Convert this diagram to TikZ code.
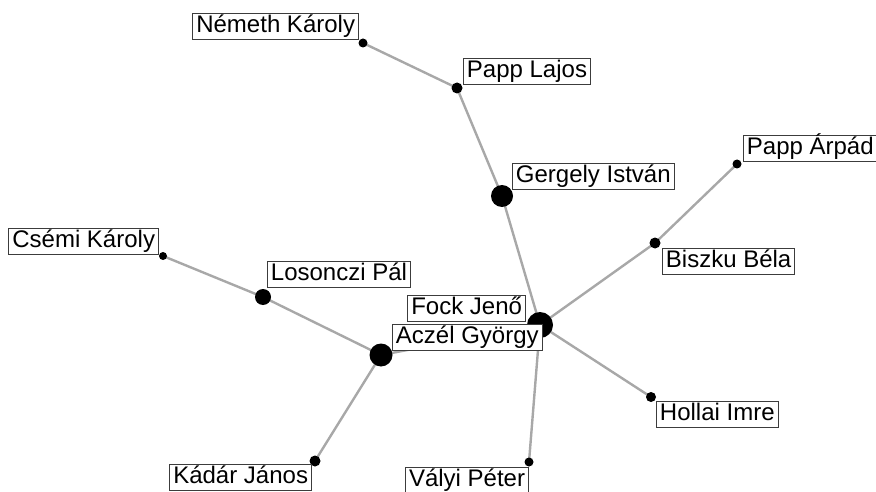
\documentclass[tikz,border=0pt]{standalone}
\usepackage{fontspec}
\setmainfont{Liberation Sans}
\pgfdeclarelayer{bg}
\pgfsetlayers{bg,main}
\definecolor{edgegray}{RGB}{168,168,168}
\definecolor{boxline}{RGB}{60,60,60}
\tikzset{
  dot/.style={circle, fill=black, inner sep=0pt, minimum size=#1},
  lbl/.style={draw=boxline, line width=0.9pt, fill=white, inner xsep=3.5pt, inner ysep=2pt,
    text height=17pt, text depth=5pt, font=\fontsize{24}{24}\selectfont},
  link/.style={draw=edgegray, line width=2.4pt}
}
\begin{document}
\begin{tikzpicture}[x=1pt, y=-1pt]
\useasboundingbox (0,0) rectangle (876,492);
% dots
\node[dot=9pt]  (NK) at (363,43) {};
\node[dot=11pt] (PL) at (457,88) {};
\node[dot=22pt] (GI) at (502,196) {};
\node[dot=9pt]  (PA) at (737,164) {};
\node[dot=11pt] (BB) at (655,243) {};
\node[dot=8pt]  (CK) at (163,256) {};
\node[dot=16pt] (LP) at (263,297) {};
\node[dot=23pt] (AG) at (381,355) {};
\node[dot=26pt] (FJ) at (540,325) {};
\node[dot=10pt] (HI) at (651,397) {};
\node[dot=11pt] (KJ) at (315,461) {};
\node[dot=9pt]  (VP) at (529,462) {};
% edges
\begin{pgfonlayer}{bg}
\draw[link] (NK.center) -- (PL.center);
\draw[link] (PL.center) -- (GI.center);
\draw[link] (GI.center) -- (FJ.center);
\draw[link] (PA.center) -- (BB.center);
\draw[link] (BB.center) -- (FJ.center);
\draw[link] (CK.center) -- (LP.center);
\draw[link] (LP.center) -- (AG.center);
\draw[link] (AG.center) -- (FJ.center);
\draw[link] (AG.center) -- (KJ.center);
\draw[link] (FJ.center) -- (HI.center);
\draw[link] (FJ.center) -- (VP.center);
\end{pgfonlayer}
% labels
\node[lbl, anchor=south east] (lNK) at ([shift={(-4,-3)}]NK.center) {Németh Károly};
\node[lbl, anchor=south west] (lPL) at ([shift={(6,-3)}]PL.center) {Papp Lajos};
\node[lbl, anchor=south west] (lGI) at ([shift={(10,-6)}]GI.center) {Gergely István};
\node[lbl, anchor=south west] (lPA) at ([shift={(6,-2)}]PA.center) {Papp Árpád};
\node[lbl, anchor=north west] (lBB) at ([shift={(7,5)}]BB.center) {Biszku Béla};
\node[lbl, anchor=south east] (lCK) at ([shift={(-4,-1)}]CK.center) {Csémi Károly};
\node[lbl, anchor=south west] (lLP) at ([shift={(4,-9)}]LP.center) {Losonczi Pál};
\node[lbl, anchor=south east] (lFJ) at ([shift={(-14,-3)}]FJ.center) {Fock Jenő};
\node[lbl, anchor=south west] (lAG) at ([shift={(11,-4)}]AG.center) {Aczél György};
\node[lbl, anchor=north west] (lHI) at ([shift={(5,4)}]HI.center) {Hollai Imre};
\node[lbl, anchor=north east] (lKJ) at ([shift={(-3,3)}]KJ.center) {Kádár János};
\node[lbl, anchor=north east] (lVP) at ([shift={(0,5)}]VP.center) {Vályi Péter};
\end{tikzpicture}
\end{document}
